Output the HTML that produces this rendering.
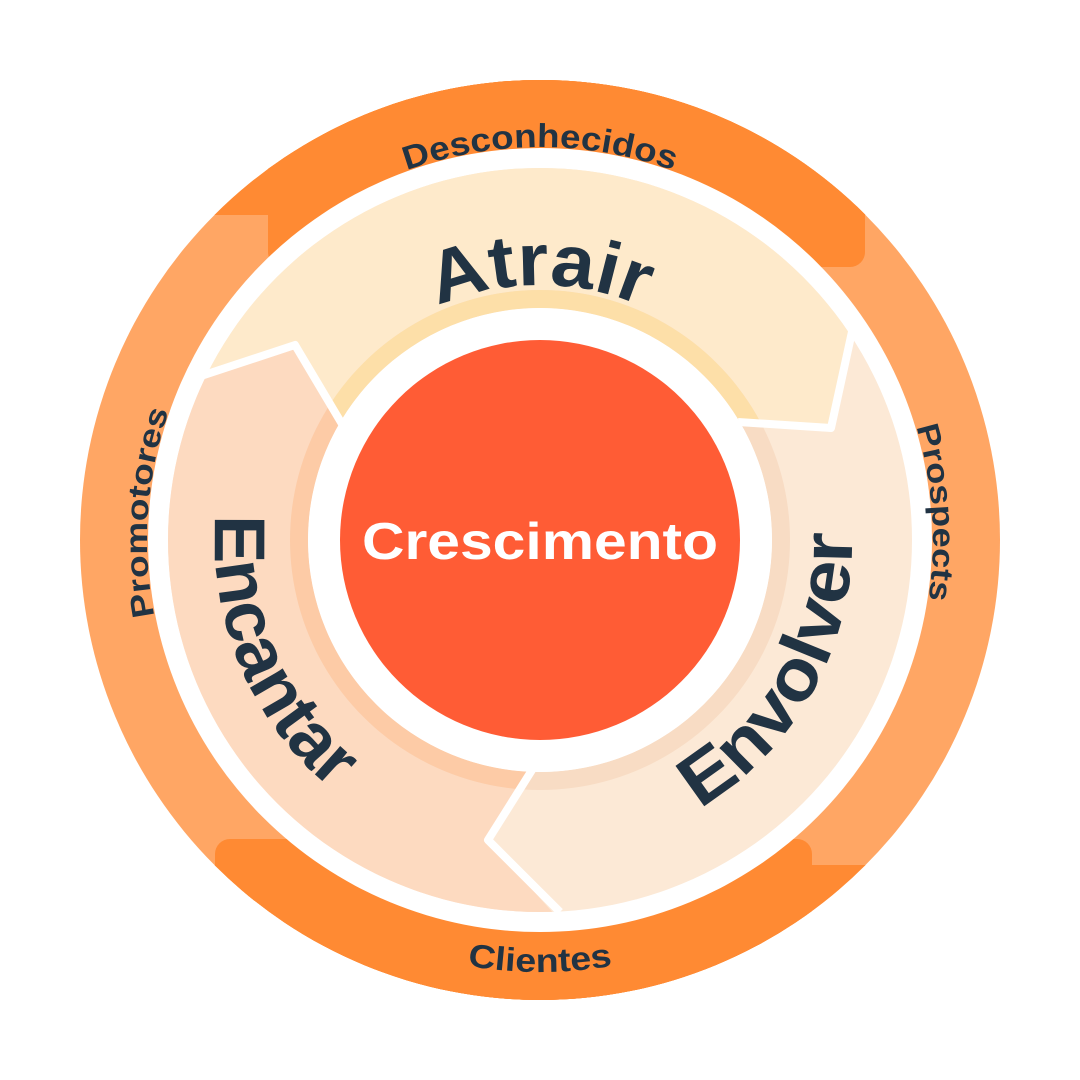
<!DOCTYPE html>
<html><head><meta charset="utf-8"><style>html,body{margin:0;padding:0;background:#fff}svg{display:block}</style></head>
<body>
<svg width="1080" height="1080" viewBox="0 0 1080 1080" xmlns="http://www.w3.org/2000/svg">
<defs>
<clipPath id="outer"><circle cx="540" cy="540" r="460"/></clipPath>
<clipPath id="ann"><path fill-rule="evenodd" d="M540 168a372 372 0 1 0 0.01 0zM540 308a232 232 0 1 1 -0.01 0z"/></clipPath>
<clipPath id="band"><path fill-rule="evenodd" d="M540 290a250 250 0 1 0 0.01 0zM540 308a232 232 0 1 1 -0.01 0z"/></clipPath>
<path id="pD" d="M199.7 343.5 A393 393 0 0 1 880.3 343.5"/>
<path id="pPm" d="M320.2 865.8 A393 393 0 0 1 367.8 186.8"/>
<path id="pPr" d="M712.2 186.8 A393 393 0 0 1 759.8 865.8"/>
<path id="pC" d="M165.9 756 A432 432 0 0 0 914.1 756"/>
<path id="pA" d="M319.2 412.5 A255 255 0 0 1 760.8 412.5"/>
<path id="pE" d="M319 302.1 A324 324 0 0 0 557 863.6"/>
<path id="pV" d="M491.2 848.2 A312 312 0 0 0 775.5 335.3"/>
</defs>
<circle cx="540" cy="540" r="460" fill="#FFA664"/>
<g clip-path="url(#outer)" fill="#FF8A33">
<rect x="0" y="0" width="1080" height="215"/>
<rect x="268" y="0" width="597" height="267" rx="15"/>
<rect x="268" y="0" width="597" height="215"/>
<rect x="0" y="865" width="1080" height="215"/>
<rect x="215" y="839" width="597" height="241" rx="15"/>
<rect x="215" y="880" width="597" height="200"/>
</g>
<circle cx="540" cy="540" r="392" fill="#fff"/>
<g clip-path="url(#ann)">
<rect x="0" y="0" width="1080" height="1080" fill="#FCE9D6"/>
<polygon points="100,410 295,345 345,430 540,540 735,425 830,432 855,320 1000,200 540,0 80,200" fill="#FEEACB"/>
<polygon points="100,410 295,345 345,430 540,540 530,772 488,840 555,915 540,1080 0,1080 0,400" fill="#FDDAC0"/>
</g>
<g clip-path="url(#band)">
<rect x="0" y="0" width="1080" height="1080" fill="#F8DCC4"/>
<polygon points="100,410 295,345 345,430 540,540 735,425 830,432 855,320 1000,200 540,0 80,200" fill="#FDDFA8"/>
<polygon points="100,410 295,345 345,430 540,540 530,772 488,840 555,915 540,1080 0,1080 0,400" fill="#FDCBA6"/>
</g>
<g fill="none" stroke="#fff" stroke-width="8" stroke-linejoin="round">
<polyline points="195,378 295,345 342,424"/>
<polyline points="855,318 831,428 738,422"/>
<polyline points="532,770 488,840 560,912"/>
</g>
<circle cx="540" cy="540" r="232" fill="#fff"/>
<circle cx="540" cy="540" r="200" fill="#FF5C35"/>
<g font-family="Liberation Sans, sans-serif" fill="#213343" font-weight="bold">
<text font-size="33"><textPath href="#pD" startOffset="50%" text-anchor="middle" textLength="272" lengthAdjust="spacingAndGlyphs">Desconhecidos</textPath></text>
<text font-size="31"><textPath href="#pPm" startOffset="50%" text-anchor="middle" textLength="208" lengthAdjust="spacingAndGlyphs">Promotores</textPath></text>
<text font-size="31"><textPath href="#pPr" startOffset="50%" text-anchor="middle" textLength="175" lengthAdjust="spacingAndGlyphs">Prospects</textPath></text>
<text font-size="33"><textPath href="#pC" startOffset="50%" text-anchor="middle" textLength="146" lengthAdjust="spacingAndGlyphs">Clientes</textPath></text>
<text font-size="74"><textPath href="#pA" startOffset="50%" text-anchor="middle" textLength="210" lengthAdjust="spacingAndGlyphs">Atrair</textPath></text>
<text font-size="72"><textPath href="#pE" startOffset="50%" text-anchor="middle" textLength="310" lengthAdjust="spacingAndGlyphs">Encantar</textPath></text>
<text font-size="72"><textPath href="#pV" startOffset="50%" text-anchor="middle" textLength="330" lengthAdjust="spacingAndGlyphs">Envolver</textPath></text>
</g>
<text x="540" y="559" font-family="Liberation Sans, sans-serif" font-size="52" font-weight="bold" fill="#fff" text-anchor="middle" textLength="356" lengthAdjust="spacingAndGlyphs">Crescimento</text>
</svg>
</body></html>
